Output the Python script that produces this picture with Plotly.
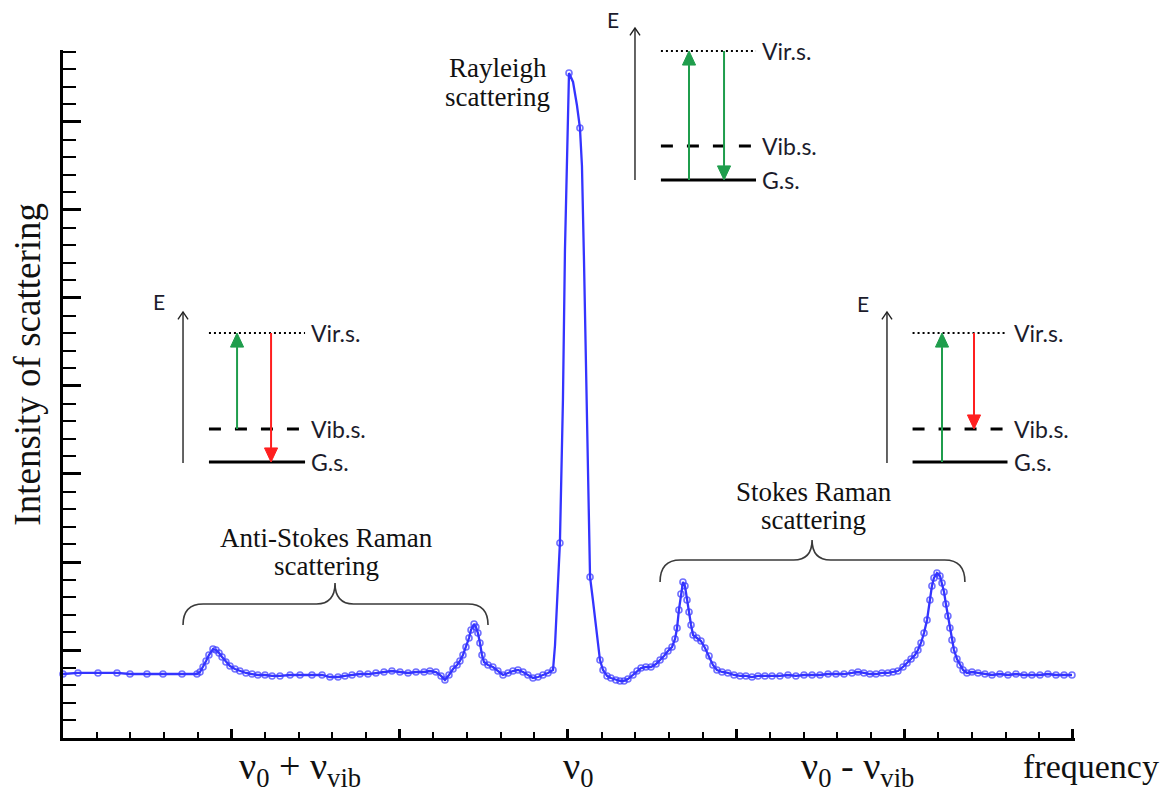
import plotly.graph_objects as go

# ---- spectrum: anti-Stokes side (left of the laser line) ----
freq_anti = [0.0, 0.89, 2.08, 3.21, 3.98, 4.99, 5.94, 7.07, 7.96,
             8.14, 8.32, 8.50, 8.67, 8.91, 9.09, 9.27, 9.45, 9.68, 9.92,
             10.22, 10.51, 10.87, 11.23, 11.58, 12.00, 12.42, 12.89, 13.49,
             14.08, 14.79, 15.39, 15.86, 16.34, 16.75, 17.17, 17.64, 18.12,
             18.59, 19.07, 19.54, 20.02, 20.50, 20.97, 21.45, 21.80, 22.16,
             22.46, 22.69, 22.93, 23.17, 23.41, 23.58, 23.76, 23.94, 24.12,
             24.24, 24.42, 24.53, 24.65, 24.77, 24.89, 25.01, 25.25, 25.54,
             25.84, 26.14, 26.44, 26.73, 27.03, 27.33, 27.62, 27.92, 28.22,
             28.51, 28.81]
int_anti = [7.27, 7.39, 7.39, 7.39, 7.27, 7.27, 7.27, 7.27, 7.27,
            7.50, 8.07, 8.75, 9.43, 10.11, 10.00, 9.66, 9.20, 8.64, 8.18,
            7.84, 7.61, 7.39, 7.27, 7.16, 7.16, 7.05, 7.05, 7.16,
            7.16, 7.16, 7.16, 6.93, 6.93, 7.05, 7.16, 7.27, 7.27,
            7.39, 7.50, 7.61, 7.50, 7.39, 7.50, 7.50, 7.61, 7.50,
            7.05, 6.59, 7.16, 7.84, 8.30, 8.75, 9.43, 10.34, 11.36,
            12.27, 12.95, 12.61, 11.93, 10.80, 9.43, 8.64, 8.30, 8.07,
            7.61, 7.16, 7.39, 7.61, 7.73, 7.50, 7.16, 6.82, 6.93,
            7.16, 7.39]

# ---- spectrum: Rayleigh line ----
freq_rayleigh = [29.11, 29.23, 29.52, 29.70, 29.82, 29.94, 30.06, 30.30,
                 30.53, 30.71, 30.83, 30.95, 31.07, 31.19, 31.31, 31.48,
                 31.72, 31.90, 32.08]
int_rayleigh = [7.73, 10.57, 22.16, 38.41, 55.45, 67.39, 75.57, 74.55,
                71.93, 69.32, 65.00, 54.32, 42.95, 30.45, 18.30, 15.68,
                11.48, 8.86, 7.73]
# sampled points on the Rayleigh line that carry a marker
rayleigh_sampled = [29.11, 29.52, 30.06, 30.71, 31.31, 31.90, 32.08]

# ---- spectrum: Stokes side (right of the laser line) ----
freq_stokes = [32.32, 32.55, 32.85, 33.09, 33.33, 33.56, 33.86, 34.10,
               34.34, 34.63, 34.93, 35.23, 35.47, 35.70, 35.94, 36.18,
               36.36, 36.48, 36.59, 36.71, 36.83, 36.95, 37.07, 37.19,
               37.31, 37.43, 37.66, 37.90, 38.14, 38.38, 38.61, 38.85,
               39.15, 39.50, 39.86, 40.22, 40.57, 40.93, 41.29, 41.70,
               42.12, 42.59, 43.07, 43.54, 44.02, 44.50, 44.97, 45.45,
               45.92, 46.40, 46.87, 47.23, 47.58, 47.94, 48.30, 48.65,
               49.01, 49.31, 49.60, 49.90, 50.14, 50.38, 50.61, 50.79,
               50.97, 51.15, 51.33, 51.50, 51.62, 51.74, 51.92, 52.10,
               52.22, 52.34, 52.45, 52.57, 52.69, 52.81, 52.93, 53.11,
               53.29, 53.47, 53.70, 54.00, 54.36, 54.77, 55.19, 55.66,
               56.14, 56.61, 57.09, 57.56, 58.04, 58.51, 58.99, 59.47,
               59.94]
int_stokes = [7.05, 6.82, 6.59, 6.48, 6.48, 6.70, 7.16, 7.61,
              7.95, 8.07, 8.07, 8.41, 8.86, 9.32, 9.89, 10.34,
              11.25, 12.50, 14.55, 16.36, 17.73, 17.27, 15.68, 14.32,
              12.84, 11.70, 11.36, 11.02, 10.23, 9.32, 8.30, 7.73,
              7.50, 7.39, 7.16, 7.05, 7.05, 6.93, 7.05, 7.05,
              7.05, 7.05, 7.16, 7.05, 7.16, 7.16, 7.16, 7.27,
              7.27, 7.27, 7.39, 7.50, 7.39, 7.27, 7.27, 7.39,
              7.39, 7.50, 7.61, 8.07, 8.52, 8.98, 9.43, 10.00,
              10.80, 11.93, 13.41, 15.68, 17.27, 18.18, 18.75, 18.41,
              17.61, 16.59, 15.23, 13.86, 12.50, 11.14, 10.00, 8.98,
              8.30, 7.73, 7.39, 7.50, 7.39, 7.27, 7.16, 7.27,
              7.16, 7.27, 7.16, 7.16, 7.16, 7.27, 7.16, 7.16,
              7.16]

tick_labels = ["ν<sub>0</sub> + ν<sub>vib</sub>", "ν<sub>0</sub>",
               "ν<sub>0</sub> - ν<sub>vib</sub>"]
tick_label_freqs = [14.1, 30.6, 47.2]

X_MAX = 60.12
Y_MAX = 78.18

SERIF = "Liberation Serif, Times New Roman, serif"
SANS = "Lato, Open Sans, sans-serif"
BLUE = "#3434ff"
GREEN = "#1f9d4c"
RED = "#ff1f1f"
INK = "#111111"

freq = freq_anti + freq_rayleigh + freq_stokes
intensity = int_anti + int_rayleigh + int_stokes
marker_sizes = []
for f in freq:
    on_rayleigh = freq_rayleigh[0] <= f <= freq_rayleigh[-1]
    marker_sizes.append(6 if (not on_rayleigh or f in rayleigh_sampled) else 0)

fig = go.Figure()
fig.add_trace(go.Scatter(
    x=freq, y=intensity, mode="lines+markers",
    line=dict(color=BLUE, width=2.3),
    marker=dict(symbol="circle-open", size=marker_sizes, color=BLUE,
                line=dict(width=1.6, color=BLUE)),
    showlegend=False, hoverinfo="skip", cliponaxis=False,
))


# Decorations are placed in axis units and converted to paper fractions,
# so pieces that reach past the axis ranges are not clipped.
def px_(x):
    return x / X_MAX


def py_(y):
    return y / Y_MAX


def brace(x0, x1, xt, y_end, y_bar, y_tip, rx=1.2, rt=1.1):
    path = (f"M {px_(x0)},{py_(y_end)} Q {px_(x0)},{py_(y_bar)} {px_(x0 + rx)},{py_(y_bar)} "
            f"L {px_(xt - rt)},{py_(y_bar)} Q {px_(xt)},{py_(y_bar)} {px_(xt)},{py_(y_tip)} "
            f"Q {px_(xt)},{py_(y_bar)} {px_(xt + rt)},{py_(y_bar)} L {px_(x1 - rx)},{py_(y_bar)} "
            f"Q {px_(x1)},{py_(y_bar)} {px_(x1)},{py_(y_end)}")
    fig.add_shape(type="path", path=path, xref="paper", yref="paper",
                  line=dict(color="#3a3a3a", width=1.6))


brace(7.13, 25.25, 16.16, 12.84, 15.23, 17.61)
brace(35.47, 53.58, 44.50, 17.73, 20.23, 22.50)


def vline(x, y0, y1, color, width):
    fig.add_shape(type="line", x0=px_(x), x1=px_(x), y0=py_(y0), y1=py_(y1),
                  xref="paper", yref="paper", line=dict(color=color, width=width))


def arrow(x, y_from, y_to, color, width, filled):
    """Vertical arrow drawn as a shaft plus a head (filled or open)."""
    sign = 1 if y_to > y_from else -1
    if filled:
        hw, hl = 0.39, 1.6          # half width (x units), length (y units)
        base = y_to - sign * hl
        vline(x, y_from, base, color, width)
        fig.add_shape(type="path", xref="paper", yref="paper",
                      path=(f"M {px_(x - hw)},{py_(base)} L {px_(x)},{py_(y_to)} "
                            f"L {px_(x + hw)},{py_(base)} Z"),
                      fillcolor=color, line=dict(color=color, width=1))
    else:
        hw, hl = 0.3, 0.85
        vline(x, y_from, y_to, color, width)
        fig.add_shape(type="path", xref="paper", yref="paper",
                      path=(f"M {px_(x - hw)},{py_(y_to - sign * hl)} "
                            f"L {px_(x)},{py_(y_to)} "
                            f"L {px_(x + hw)},{py_(y_to - sign * hl)}"),
                      line=dict(color=color, width=width))


def level(x0, x1, y, dash, width):
    fig.add_shape(type="line", x0=px_(x0), x1=px_(x1), y0=py_(y), y1=py_(y),
                  xref="paper", yref="paper",
                  line=dict(color="black", width=width, dash=dash))


def label(x, y, text, size=23, family=SANS, anchor="left", color="#1c1c2c",
          angle=0):
    fig.add_annotation(x=px_(x), y=py_(y), xref="paper", yref="paper",
                       text=text, showarrow=False, textangle=angle,
                       xanchor=anchor, yanchor="middle",
                       font=dict(family=family, size=size, color=color))


def energy_diagram(x_axis, y_axis0, y_axis1, e_x, e_y,
                   x0, x1, y_gs, y_vib, y_vir,
                   up_x, up_from, down_x, down_to, down_color):
    arrow(x_axis, y_axis0, y_axis1, "#222222", 1.4, False)
    label(e_x, e_y, "E", size=21, anchor="center")
    level(x0, x1, y_vir, "2px,3px", 2)
    level(x0, x1 - 0.25, y_vib, "12px,14px", 3)
    level(x0, x1, y_gs, "solid", 3)
    arrow(up_x, up_from, y_vir, GREEN, 2, True)
    arrow(down_x, y_vir, down_to, down_color, 2, True)
    lx = x1 + 0.25
    label(lx, y_vir, "Vir.s.")
    label(lx, y_vib, "Vib.s.")
    label(lx, y_gs, "G.s.")


# anti-Stokes: starts in the vibrational state, ends in the ground state
energy_diagram(7.13, 31.25, 48.41, 5.70, 49.6,
               8.67, 14.38, 31.36, 35.11, 46.02,
               10.34, 35.11, 12.36, 31.36, RED)
# Rayleigh: elastic, back to the ground state
energy_diagram(33.98, 63.41, 80.68, 32.67, 81.6,
               35.52, 41.17, 63.41, 67.27, 78.07,
               37.19, 63.41, 39.27, 63.41, GREEN)
# Stokes: starts in the ground state, ends in the vibrational state
energy_diagram(48.95, 31.25, 48.41, 47.53, 49.4,
               50.47, 56.11, 31.36, 35.11, 46.02,
               52.22, 31.36, 54.12, 35.11, RED)

# peak names
label(25.84, 76.1, "Rayleigh", size=27, family=SERIF, anchor="center", color=INK)
label(25.84, 72.8, "scattering", size=27, family=SERIF, anchor="center", color=INK)
label(15.68, 22.7, "Anti-Stokes Raman", size=27, family=SERIF, anchor="center", color=INK)
label(15.68, 19.6, "scattering", size=27, family=SERIF, anchor="center", color=INK)
label(44.61, 27.9, "Stokes Raman", size=27, family=SERIF, anchor="center", color=INK)
label(44.61, 24.8, "scattering", size=27, family=SERIF, anchor="center", color=INK)

# frequency labels under the axis
for f, t in zip(tick_label_freqs, tick_labels):
    label(f, -3.5, t, size=38, family=SERIF, anchor="center", color=INK)

# axis names
label(61.1, -3.2, "frequency", size=34, family=SERIF, anchor="center", color=INK)
label(-2.1, 42.5, "Intensity of scattering", size=37, family=SERIF,
      anchor="center", color=INK, angle=-90)

fig.update_xaxes(range=[0, X_MAX], showline=True, linewidth=3, linecolor="black",
                 ticks="inside", dtick=10, tick0=0, ticklen=9, tickwidth=2.5,
                 tickcolor="black", showticklabels=False, showgrid=False,
                 zeroline=False,
                 minor=dict(dtick=2, ticks="inside", ticklen=6, tickwidth=2,
                            tickcolor="black", showgrid=False))
fig.update_yaxes(range=[0, Y_MAX], showline=True, linewidth=3, linecolor="black",
                 ticks="inside", dtick=10, tick0=0, ticklen=18, tickwidth=3,
                 tickcolor="black", showticklabels=False, showgrid=False,
                 zeroline=False,
                 minor=dict(dtick=2, ticks="inside", ticklen=13, tickwidth=2,
                            tickcolor="black", showgrid=False))

fig.update_layout(width=1168, height=796,
                  margin=dict(l=63, r=93, t=50, b=58),
                  plot_bgcolor="white", paper_bgcolor="white")

fig.write_html("out.html")
